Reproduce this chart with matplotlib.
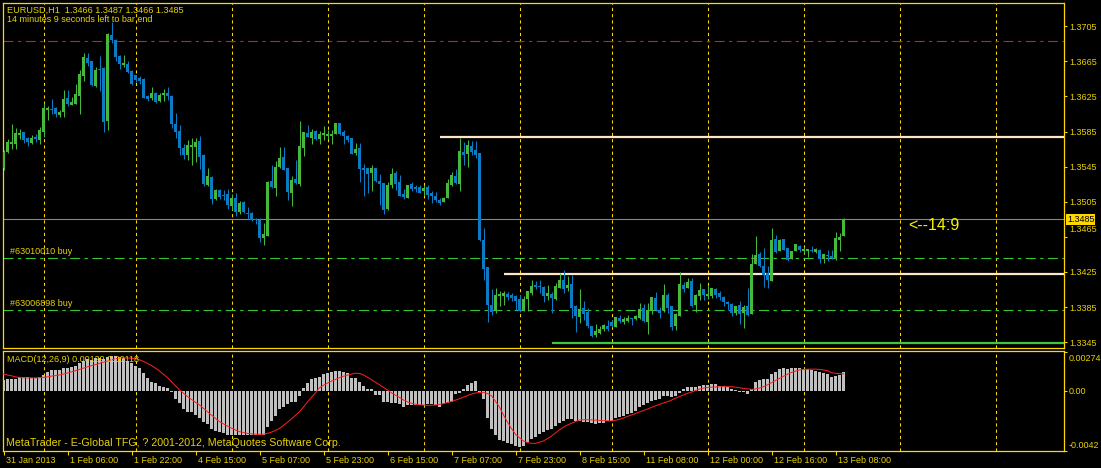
import numpy as np
import matplotlib.pyplot as plt
from matplotlib.transforms import ScaledTranslation, blended_transform_factory

plt.rcParams['font.family'] = ['Liberation Sans', 'DejaVu Sans']

# EURUSD H1 candles (bar 0 = 31 Jan 2013 14:00)
opens = [
    1.3544, 1.3562, 1.3571, 1.3571, 1.3581, 1.3584, 1.3578, 1.3572, 1.3579, 1.3575,
    1.3584, 1.3610, 1.3611, 1.3612, 1.3604, 1.3607, 1.3623, 1.3615, 1.3616, 1.3626,
    1.3648, 1.3669, 1.3666, 1.3637, 1.3656, 1.3657, 1.3597, 1.3695, 1.3689, 1.3671,
    1.3661, 1.3662, 1.3654, 1.3650, 1.3646, 1.3645, 1.3626, 1.3623, 1.3629, 1.3620,
    1.3627, 1.3629, 1.3626, 1.3594, 1.3586, 1.3566, 1.3558, 1.3567, 1.3567, 1.3574,
    1.3558, 1.3524, 1.3533, 1.3508, 1.3518, 1.3513, 1.3514, 1.3500, 1.3509, 1.3493,
    1.3505, 1.3492, 1.3492, 1.3485, 1.3484, 1.3464, 1.3466, 1.3529, 1.3521, 1.3545,
    1.3556, 1.3543, 1.3515, 1.3531, 1.3525, 1.3566, 1.3583, 1.3578, 1.3586, 1.3577,
    1.3581, 1.3580, 1.3580, 1.3582, 1.3595, 1.3585, 1.3580, 1.3578, 1.3561, 1.3566,
    1.3543, 1.3543, 1.3538, 1.3543, 1.3529, 1.3526, 1.3497, 1.3524, 1.3538, 1.3528,
    1.3514, 1.3509, 1.3525, 1.3522, 1.3522, 1.3517, 1.3522, 1.3515, 1.3512, 1.3507,
    1.3505, 1.3509, 1.3524, 1.3534, 1.3525, 1.3562, 1.3559, 1.3569, 1.3564, 1.3561,
    1.3461, 1.3431, 1.3387, 1.3380, 1.3398, 1.3398, 1.3400, 1.3399, 1.3398, 1.3394,
    1.3380, 1.3394, 1.3401, 1.3410, 1.3409, 1.3408, 1.3398, 1.3400, 1.3394, 1.3407,
    1.3416, 1.3407, 1.3411, 1.3386, 1.3374, 1.3384, 1.3379, 1.3363, 1.3353, 1.3355,
    1.3360, 1.3363, 1.3368, 1.3362, 1.3372, 1.3368, 1.3369, 1.3372, 1.3371, 1.3372,
    1.3384, 1.3368, 1.3382, 1.3395, 1.3382, 1.3382, 1.3399, 1.3386, 1.3363, 1.3375,
    1.3410, 1.3407, 1.3415, 1.3387, 1.3398, 1.3406, 1.3398, 1.3398, 1.3406, 1.3401,
    1.3396, 1.3391, 1.3388, 1.3378, 1.3387, 1.3378, 1.3386, 1.3377, 1.3434, 1.3445,
    1.3432, 1.3424, 1.3415, 1.3463, 1.3449, 1.3463, 1.3452, 1.3440, 1.3449, 1.3455,
    1.3449, 1.3449, 1.3450, 1.3448, 1.3450, 1.3440, 1.3444, 1.3443, 1.3441, 1.3461,
    1.3466,
]
highs = [
    1.3564, 1.3577, 1.3594, 1.3589, 1.3588, 1.3585, 1.3579, 1.3581, 1.3582, 1.3590,
    1.3618, 1.3614, 1.3622, 1.3613, 1.3610, 1.3632, 1.3632, 1.3624, 1.3639, 1.3655,
    1.3675, 1.3675, 1.3666, 1.3659, 1.3671, 1.3659, 1.3697, 1.3710, 1.3690, 1.3672,
    1.3672, 1.3665, 1.3655, 1.3650, 1.3648, 1.3646, 1.3627, 1.3636, 1.3630, 1.3629,
    1.3634, 1.3636, 1.3627, 1.3606, 1.3593, 1.3571, 1.3575, 1.3578, 1.3578, 1.3580,
    1.3559, 1.3544, 1.3534, 1.3520, 1.3520, 1.3518, 1.3520, 1.3514, 1.3515, 1.3506,
    1.3506, 1.3499, 1.3493, 1.3486, 1.3486, 1.3481, 1.3529, 1.3547, 1.3552, 1.3567,
    1.3567, 1.3543, 1.3534, 1.3553, 1.3597, 1.3585, 1.3593, 1.3588, 1.3587, 1.3586,
    1.3591, 1.3587, 1.3587, 1.3595, 1.3595, 1.3587, 1.3581, 1.3578, 1.3572, 1.3572,
    1.3548, 1.3543, 1.3547, 1.3543, 1.3537, 1.3526, 1.3528, 1.3543, 1.3540, 1.3536,
    1.3520, 1.3524, 1.3528, 1.3524, 1.3524, 1.3524, 1.3524, 1.3517, 1.3516, 1.3509,
    1.3510, 1.3531, 1.3539, 1.3542, 1.3578, 1.3573, 1.3575, 1.3574, 1.3574, 1.3561,
    1.3475, 1.3431, 1.3405, 1.3407, 1.3403, 1.3403, 1.3402, 1.3401, 1.3399, 1.3399,
    1.3398, 1.3403, 1.3416, 1.3415, 1.3416, 1.3409, 1.3410, 1.3402, 1.3412, 1.3424,
    1.3427, 1.3420, 1.3421, 1.3387, 1.3405, 1.3392, 1.3384, 1.3363, 1.3366, 1.3363,
    1.3366, 1.3370, 1.3370, 1.3374, 1.3376, 1.3374, 1.3376, 1.3372, 1.3376, 1.3390,
    1.3388, 1.3390, 1.3396, 1.3402, 1.3385, 1.3411, 1.3401, 1.3386, 1.3378, 1.3425,
    1.3414, 1.3418, 1.3418, 1.3400, 1.3412, 1.3406, 1.3410, 1.3407, 1.3407, 1.3403,
    1.3398, 1.3392, 1.3390, 1.3386, 1.3392, 1.3387, 1.3407, 1.3445, 1.3466, 1.3448,
    1.3452, 1.3432, 1.3475, 1.3467, 1.3463, 1.3463, 1.3452, 1.3449, 1.3457, 1.3456,
    1.3453, 1.3451, 1.3455, 1.3452, 1.3451, 1.3445, 1.3450, 1.3450, 1.3471, 1.3469,
    1.3487,
]
lows = [
    1.3541, 1.3561, 1.3565, 1.3565, 1.3576, 1.3572, 1.3569, 1.3571, 1.3573, 1.3571,
    1.3579, 1.3598, 1.3605, 1.3602, 1.3602, 1.3602, 1.3614, 1.3615, 1.3616, 1.3605,
    1.3643, 1.3660, 1.3637, 1.3636, 1.3631, 1.3585, 1.3587, 1.3686, 1.3665, 1.3656,
    1.3659, 1.3652, 1.3638, 1.3642, 1.3639, 1.3623, 1.3620, 1.3621, 1.3618, 1.3619,
    1.3620, 1.3621, 1.3589, 1.3578, 1.3558, 1.3554, 1.3553, 1.3547, 1.3550, 1.3542,
    1.3523, 1.3523, 1.3502, 1.3507, 1.3508, 1.3507, 1.3497, 1.3496, 1.3489, 1.3491,
    1.3492, 1.3485, 1.3483, 1.3480, 1.3459, 1.3456, 1.3466, 1.3521, 1.3512, 1.3543,
    1.3541, 1.3507, 1.3500, 1.3525, 1.3523, 1.3557, 1.3579, 1.3571, 1.3575, 1.3571,
    1.3575, 1.3576, 1.3571, 1.3582, 1.3581, 1.3571, 1.3573, 1.3559, 1.3558, 1.3528,
    1.3512, 1.3515, 1.3517, 1.3528, 1.3501, 1.3491, 1.3496, 1.3521, 1.3518, 1.3512,
    1.3508, 1.3509, 1.3517, 1.3516, 1.3515, 1.3513, 1.3508, 1.3504, 1.3505, 1.3501,
    1.3505, 1.3509, 1.3523, 1.3525, 1.3517, 1.3547, 1.3545, 1.3558, 1.3555, 1.3460,
    1.3416, 1.3368, 1.3376, 1.3378, 1.3386, 1.3387, 1.3393, 1.3392, 1.3382, 1.3379,
    1.3380, 1.3380, 1.3399, 1.3406, 1.3401, 1.3391, 1.3393, 1.3378, 1.3393, 1.3407,
    1.3401, 1.3403, 1.3373, 1.3357, 1.3367, 1.3370, 1.3361, 1.3351, 1.3351, 1.3354,
    1.3358, 1.3358, 1.3362, 1.3362, 1.3367, 1.3366, 1.3368, 1.3364, 1.3370, 1.3371,
    1.3368, 1.3354, 1.3377, 1.3380, 1.3372, 1.3379, 1.3378, 1.3359, 1.3359, 1.3375,
    1.3402, 1.3407, 1.3385, 1.3379, 1.3393, 1.3393, 1.3394, 1.3395, 1.3395, 1.3393,
    1.3386, 1.3382, 1.3375, 1.3376, 1.3366, 1.3361, 1.3375, 1.3377, 1.3434, 1.3431,
    1.3408, 1.3407, 1.3415, 1.3447, 1.3449, 1.3450, 1.3437, 1.3440, 1.3449, 1.3448,
    1.3447, 1.3442, 1.3448, 1.3447, 1.3435, 1.3435, 1.3437, 1.3440, 1.3439, 1.3449,
    1.3466,
]
closes = [
    1.3562, 1.3573, 1.3573, 1.3583, 1.3583, 1.3575, 1.3573, 1.3578, 1.3576, 1.3587,
    1.3612, 1.3612, 1.3610, 1.3605, 1.3607, 1.3622, 1.3616, 1.3619, 1.3628, 1.3651,
    1.3670, 1.3663, 1.3638, 1.3655, 1.3655, 1.3596, 1.3696, 1.3689, 1.3670, 1.3662,
    1.3663, 1.3653, 1.3639, 1.3644, 1.3643, 1.3623, 1.3622, 1.3629, 1.3619, 1.3627,
    1.3629, 1.3626, 1.3594, 1.3585, 1.3566, 1.3558, 1.3570, 1.3570, 1.3573, 1.3556,
    1.3525, 1.3534, 1.3508, 1.3518, 1.3510, 1.3512, 1.3501, 1.3509, 1.3493, 1.3504,
    1.3493, 1.3491, 1.3484, 1.3484, 1.3464, 1.3468, 1.3528, 1.3522, 1.3545, 1.3555,
    1.3541, 1.3516, 1.3530, 1.3526, 1.3569, 1.3585, 1.3579, 1.3585, 1.3577, 1.3582,
    1.3583, 1.3582, 1.3582, 1.3595, 1.3582, 1.3580, 1.3575, 1.3559, 1.3565, 1.3542,
    1.3541, 1.3537, 1.3543, 1.3529, 1.3525, 1.3496, 1.3524, 1.3537, 1.3525, 1.3512,
    1.3510, 1.3524, 1.3520, 1.3520, 1.3515, 1.3521, 1.3513, 1.3512, 1.3507, 1.3504,
    1.3509, 1.3526, 1.3536, 1.3526, 1.3563, 1.3558, 1.3570, 1.3562, 1.3558, 1.3461,
    1.3428, 1.3387, 1.3379, 1.3399, 1.3400, 1.3401, 1.3396, 1.3395, 1.3392, 1.3380,
    1.3394, 1.3403, 1.3409, 1.3408, 1.3408, 1.3398, 1.3401, 1.3395, 1.3409, 1.3416,
    1.3406, 1.3410, 1.3384, 1.3375, 1.3383, 1.3377, 1.3363, 1.3352, 1.3358, 1.3360,
    1.3365, 1.3360, 1.3363, 1.3374, 1.3369, 1.3371, 1.3372, 1.3371, 1.3375, 1.3383,
    1.3369, 1.3382, 1.3396, 1.3382, 1.3378, 1.3399, 1.3384, 1.3362, 1.3377, 1.3411,
    1.3406, 1.3414, 1.3386, 1.3399, 1.3404, 1.3399, 1.3400, 1.3407, 1.3399, 1.3396,
    1.3391, 1.3388, 1.3378, 1.3386, 1.3377, 1.3385, 1.3376, 1.3434, 1.3444, 1.3432,
    1.3422, 1.3416, 1.3461, 1.3448, 1.3461, 1.3450, 1.3439, 1.3449, 1.3457, 1.3450,
    1.3451, 1.3451, 1.3449, 1.3451, 1.3440, 1.3445, 1.3443, 1.3441, 1.3464, 1.3465,
    1.3485,
]

# MACD(12,26,9) main (histogram) and signal, in units of 1e-4
macd_main = [
    7.5, 7.9, 8.4, 8.4, 9.5, 9.5, 9.5, 8.6, 8.6, 9.5,
    11.2, 13.3, 14.2, 14.2, 14.2, 15.8, 15.8, 16.6, 17.5, 19.2,
    20.8, 22.0, 21.5, 22.7, 22.7, 22.4, 23.6, 24.3, 24.0, 23.6,
    22.6, 21.0, 19.1, 17.5, 15.9, 12.6, 9.1, 6.3, 5.1, 3.3,
    2.8, 1.6, -0.9, -5.6, -8.9, -12.8, -14.9, -14.9, -17.3, -18.9,
    -21.9, -23.6, -26.6, -28.0, -28.9, -29.9, -31.3, -31.3, -31.3, -31.3,
    -31.3, -31.3, -31.3, -31.0, -31.3, -31.3, -25.2, -21.2, -17.7, -13.1,
    -11.2, -9.6, -7.7, -7.7, -3.7, 2.1, 5.6, 8.2, 9.1, 9.8,
    11.4, 12.1, 12.8, 14.0, 14.0, 12.8, 12.1, 9.1, 8.6, 5.8,
    3.3, 1.2, 1.2, -2.8, -3.0, -7.9, -7.9, -8.9, -8.9, -9.5,
    -11.2, -10.0, -10.0, -10.0, -10.0, -10.0, -9.6, -9.6, -10.0, -11.2,
    -9.6, -8.9, -7.7, -2.6, -1.9, 1.2, 4.0, 5.6, 7.0, -0.7,
    -6.1, -19.1, -27.1, -31.0, -34.5, -35.2, -36.9, -37.6, -38.7, -39.2,
    -38.7, -35.7, -34.1, -32.2, -30.3, -28.7, -27.5, -27.1, -24.7, -22.4,
    -21.0, -19.8, -20.1, -21.0, -21.0, -21.7, -22.2, -22.9, -23.3, -22.9,
    -22.4, -21.5, -21.0, -19.1, -18.7, -17.7, -16.3, -15.4, -14.0, -11.2,
    -10.0, -8.9, -7.0, -6.5, -6.1, -3.7, -3.7, -4.2, -3.7, -1.9,
    0.9, 2.8, 2.8, 2.8, 3.5, 4.0, 4.0, 4.7, 4.7, 3.5,
    3.5, 2.8, 1.2, 0.5, -1.2, -1.2, -2.3, 0.9, 5.8, 7.5,
    7.9, 7.9, 11.7, 12.8, 15.2, 15.6, 15.2, 15.6, 15.6, 15.6,
    15.4, 14.9, 14.5, 13.8, 12.8, 12.1, 11.4, 9.8, 10.3, 11.2,
    12.9,
]
macd_signal = [
    11.7, 11.0, 10.4, 9.7, 9.3, 9.1, 9.0, 9.0, 9.0, 9.1,
    9.4, 9.7, 10.2, 10.6, 11.0, 11.7, 12.4, 13.2, 14.0, 14.9,
    15.8, 16.7, 17.5, 18.3, 19.1, 20.0, 20.8, 21.6, 22.4, 22.7,
    22.9, 22.9, 22.7, 22.4, 21.6, 20.5, 19.1, 17.6, 15.8, 13.8,
    11.5, 9.1, 6.3, 3.4, 0.5, -1.8, -4.1, -6.1, -8.1, -10.0,
    -12.4, -14.9, -17.1, -19.4, -21.7, -23.2, -24.8, -26.2, -27.5, -28.7,
    -29.3, -29.9, -30.2, -30.5, -30.6, -30.4, -29.9, -29.0, -27.8, -26.4,
    -24.3, -22.1, -19.7, -17.2, -14.7, -11.3, -7.9, -4.7, -1.4, 2.1,
    3.8, 5.3, 6.7, 7.9, 9.1, 10.1, 10.9, 11.6, 12.2, 12.1,
    11.0, 9.4, 7.7, 5.9, 4.1, 2.3, 0.5, -1.5, -3.2, -4.7,
    -6.5, -7.8, -8.8, -9.5, -9.9, -10.1, -10.2, -10.2, -10.0, -9.6,
    -9.0, -8.3, -7.5, -6.6, -5.6, -4.5, -3.4, -2.4, -1.6, -1.2,
    -1.2, -2.0, -3.5, -7.5, -11.5, -17.0, -22.0, -26.5, -30.5, -33.0,
    -35.2, -36.3, -36.8, -36.9, -36.0, -35.2, -33.5, -31.8, -29.5, -27.5,
    -25.5, -24.0, -22.8, -21.6, -20.5, -20.3, -20.3, -20.4, -20.6, -20.8,
    -21.0, -21.1, -21.2, -20.7, -20.0, -19.1, -18.0, -17.0, -16.0, -14.9,
    -13.9, -12.8, -11.7, -10.6, -9.5, -8.6, -7.7, -6.6, -5.3, -4.1,
    -3.0, -1.9, -0.9, 0.1, 1.1, 1.8, 2.3, 2.5, 2.6, 2.7,
    2.7, 2.8, 2.8, 2.5, 2.1, 1.6, 1.3, 0.9, 1.3, 1.8,
    2.8, 4.1, 5.6, 7.1, 8.6, 10.1, 11.5, 12.8, 13.7, 14.5,
    14.9, 15.0, 15.1, 15.1, 14.9, 14.5, 14.0, 12.6, 12.2, 12.0,
    11.8,
]

time_tick_bars = [0, 16, 32, 48, 64, 80, 96, 112, 128, 144, 160, 176, 192, 208]
time_tick_labels = ["31 Jan 2013", "1 Feb 06:00", "1 Feb 22:00", "4 Feb 15:00",
                    "5 Feb 07:00", "5 Feb 23:00", "6 Feb 15:00", "7 Feb 07:00",
                    "7 Feb 23:00", "8 Feb 15:00", "11 Feb 08:00", "12 Feb 00:00",
                    "12 Feb 16:00", "13 Feb 08:00"]
day_start_bars = [10, 33, 57, 81, 105, 129, 152, 176, 200, 224, 248]

price_ticks = [1.3705, 1.3665, 1.3625, 1.3585, 1.3545, 1.3505, 1.3465, 1.3425, 1.3385, 1.3345]
macd_ticks = [0.00274, 0.0, -0.0042]
macd_tick_labels = ["0.00274", "0.00", "-0.0042"]

bid = 1.3485
stop_level = 1.3688
orders = ["#63010010 buy", "#63006898 buy"]
order_prices = [1.3441, 1.3382]
ray_prices = [1.3579, 1.3423, 1.3344]
ray_start_bars = [109, 125, 137]
ray_colors = ["#ffe6c8", "#ffe6c8", "#3cc83c"]

# ---- styling ----
BG = "black"
FRAME = "#ffd700"
TXT = "#e8d200"
UP = "#46b93c"
DOWN = "#0b7bc4"
W, H = 1101, 468
# 4 px per bar, bar centres on half-pixels so 3 px bodies stay crisp
X_MIN, X_MAX = -0.25, 265.0

fig = plt.figure(figsize=(W / 100, H / 100), dpi=100, facecolor=BG)
ax = fig.add_axes([2.5 / W, 1 - 347.5 / H, 1061 / W, 345 / H], facecolor=BG)
ax2 = fig.add_axes([2.5 / W, 1 - 451 / H, 1061 / W, 100.5 / H], facecolor=BG)

o = np.array(opens)
h = np.array(highs)
l = np.array(lows)
c = np.array(closes)
x = np.arange(len(o))
up = c >= o
colors = np.where(up, UP, DOWN)

# candles
ax.vlines(x, l, h, colors=colors, linewidth=0.75, zorder=3)
body_lo = np.minimum(o, c)
body_h = np.maximum(np.abs(c - o), 0.00011)
ax.bar(x, body_h, bottom=body_lo, width=0.74, color=colors, linewidth=0,
       antialiased=False, zorder=4)

# day separators
for a in (ax, ax2):
    for d in day_start_bars:
        a.axvline(d, color=FRAME, linewidth=0.75, dashes=(3, 3), zorder=1)

# horizontal objects
ax.axhline(bid, color="#778899", linewidth=0.8, zorder=2)
ax.axhline(stop_level, color="#d41c1c", linewidth=0.8, dashes=(9, 4, 3, 4), zorder=2)
for name, p in zip(orders, order_prices):
    ax.axhline(p, color="#32c832", linewidth=0.8, dashes=(9, 4, 3, 4), zorder=2)
    ax.annotate(name, xy=(1.5, p), xytext=(0, 1.5), textcoords="offset points",
                color=TXT, fontsize=6.5, va="bottom", ha="left")
for p, s, col in zip(ray_prices, ray_start_bars, ray_colors):
    ax.hlines(p, s, X_MAX, color=col, linewidth=1.6, zorder=2)

ax.text(226.2, 1.34775, "<--14:9", color="#f5f500", fontsize=11.5,
        va="center", ha="left")

# price axis
ax.set_xlim(X_MIN, X_MAX)
ax.set_ylim(1.333885, 1.373215)
ax.yaxis.tick_right()
ax.set_yticks(price_ticks)
ax.set_yticklabels([f"{p:.4f}" for p in price_ticks])
ax.tick_params(axis="y", colors=FRAME, labelcolor=TXT, length=2.5, width=0.75,
               pad=1.5, labelsize=6.5)
ax.tick_params(axis="x", bottom=False, labelbottom=False)
for lab in ax.get_yticklabels():
    if lab.get_text() == "1.3465":
        lab.set_transform(lab.get_transform() + ScaledTranslation(0, 0.08, fig.dpi_scale_trans))
bt = blended_transform_factory(ax.transAxes, ax.transData)
ax.text(1.0 + 3.5 / 1061, bid, f"{bid:.4f}", transform=bt, color="black", fontsize=6.5,
        va="center", ha="left", zorder=10,
        bbox=dict(boxstyle="square,pad=0.1", facecolor=FRAME, edgecolor="none"))

# MACD panel
mm = np.array(macd_main) * 1e-4
ms = np.array(macd_signal) * 1e-4
ax2.bar(x, mm, width=0.74, color="#c0c0c0", linewidth=0, antialiased=False, zorder=2)
ax2.plot(x, ms, color="#ff1e1e", linewidth=0.72, zorder=3)
ax2.set_xlim(X_MIN, X_MAX)
ax2.set_ylim(-0.004221, 0.002814)
ax2.yaxis.tick_right()
ax2.set_yticks(macd_ticks)
ax2.set_yticklabels(macd_tick_labels)
ax2.tick_params(axis="y", colors=FRAME, labelcolor=TXT, length=2.5, width=0.75,
                pad=1.5, labelsize=6.5)
labs = ax2.get_yticklabels()
labs[0].set_transform(labs[0].get_transform() + ScaledTranslation(0, -0.06, fig.dpi_scale_trans))
labs[2].set_transform(labs[2].get_transform() + ScaledTranslation(0, 0.065, fig.dpi_scale_trans))
ax2.set_xticks(time_tick_bars)
ax2.set_xticklabels(time_tick_labels)
ax2.tick_params(axis="x", colors=FRAME, labelcolor=TXT, length=3, width=0.75,
                pad=0.5, labelsize=6.5)
for lab in ax2.get_xticklabels():
    lab.set_horizontalalignment("left")
    lab.set_transform(lab.get_transform() + ScaledTranslation(0.025, 0, fig.dpi_scale_trans))

for a in (ax, ax2):
    for sp in a.spines.values():
        sp.set_color(FRAME)
        sp.set_linewidth(0.9)

# captions
fig.text(7 / W, 1 - 10 / H, "EURUSD,H1  1.3466 1.3487 1.3466 1.3485", color=TXT,
         fontsize=6.6, va="center", ha="left")
fig.text(7 / W, 1 - 20 / H, "14 minutes 9 seconds left to bar end", color=TXT,
         fontsize=6.5, va="center", ha="left")
fig.text(7 / W, 1 - 360 / H, "MACD(12,26,9) 0.00129 0.00118", color=TXT,
         fontsize=6.5, va="center", ha="left", zorder=10)
fig.text(6 / W, 1 - 443 / H,
         "MetaTrader - E-Global TFG, ? 2001-2012, MetaQuotes Software Corp.",
         color=TXT, fontsize=7.7, va="center", ha="left")

fig.savefig("out.png", dpi=100, facecolor=BG)
